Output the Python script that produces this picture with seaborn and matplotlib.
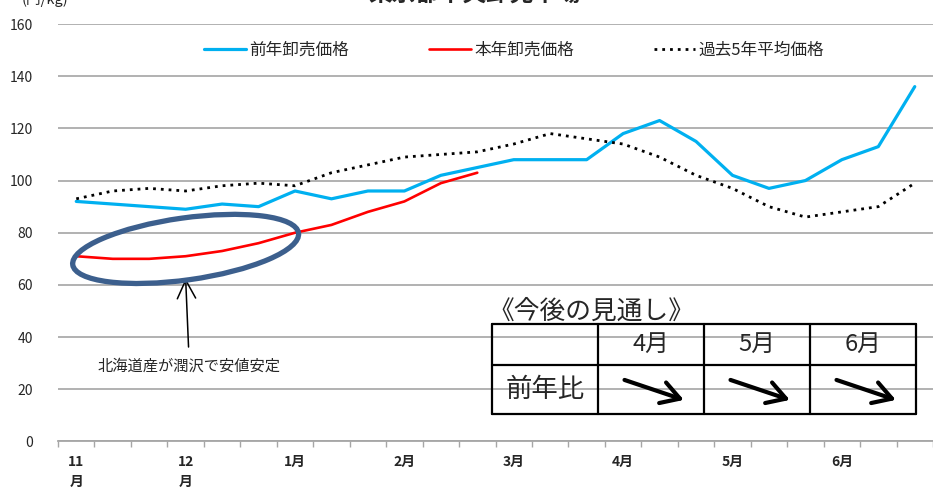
import numpy as np
import pandas as pd
import matplotlib
matplotlib.use("Agg")
import matplotlib.pyplot as plt
import seaborn as sns
from matplotlib.patches import Ellipse
from matplotlib.transforms import IdentityTransform, ScaledTranslation

# 旬ごと (上旬・中旬・下旬) の卸売価格 (円/kg)
months = ["11", "12", "1", "2", "3", "4", "5", "6"]
month_ticks = ["11\n月", "12\n月", "1月", "2月", "3月", "4月", "5月", "6月"]
periods = [f"{m}月{s}" for m in months for s in ("上旬", "中旬", "下旬")]

prev_year = [92, 91, 90, 89, 91, 90, 96, 93, 96, 96, 102, 105,
             108, 108, 108, 118, 123, 115, 102, 97, 100, 108, 113, 136]
this_year = [71, 70, 70, 71, 73, 76, 80, 83, 88, 92, 99, 103]
avg_5yr = [93, 96, 97, 96, 98, 99, 98, 103, 106, 109, 110, 111,
           114, 118, 116, 114, 109, 102, 97, 90, 86, 88, 90, 99]

outlook_months = ["4月", "5月", "6月"]

sns.set_theme(style="white")
plt.rcParams["font.family"] = ["Noto Sans CJK JP", "DejaVu Sans"]

pos = np.arange(len(periods))
df = pd.DataFrame({
    "pos": pos,
    "前年卸売価格": prev_year,
    "本年卸売価格": this_year + [np.nan] * (len(periods) - len(this_year)),
    "過去5年平均価格": avg_5yr,
})

fig = plt.figure(figsize=(9.33, 4.98), dpi=100)
ax = fig.add_axes([0.0622, 0.1135, 0.9378, 0.8383])

sns.lineplot(data=df, x="pos", y="前年卸売価格", ax=ax, color="#00B0F0",
             lw=2.3, label="前年卸売価格", zorder=3)
sns.lineplot(data=df, x="pos", y="本年卸売価格", ax=ax, color="#FF0000",
             lw=1.9, label="本年卸売価格", zorder=4)
sns.lineplot(data=df, x="pos", y="過去5年平均価格", ax=ax, color="black",
             lw=2.0, label="過去5年平均価格", zorder=3)
ax.lines[2].set_linestyle((0, (1, 1.8)))

ax.set_xlim(-0.5, len(periods) - 0.5)
ax.set_ylim(0, 160)
ax.set_yticks(np.arange(0, 161, 20))
ax.set_xticks(pos[::3])
ax.set_xticklabels(month_ticks, fontweight="bold", fontsize=10, linespacing=1.5)
ax.set_xticks(np.arange(-0.5, len(periods)), minor=True)
ax.tick_params(axis="x", which="major", length=0, pad=10)
ax.tick_params(axis="x", which="minor", length=4, width=1, color="#A6A6A6",
               bottom=True)
ax.tick_params(axis="y", length=0, labelsize=10, pad=18)
ax.set_xlabel("")
ax.set_ylabel("")
ax.grid(axis="y", color="#ABABAB", lw=1.3)
for s in ("top", "right", "left"):
    ax.spines[s].set_visible(False)
ax.spines["bottom"].set_color("#A6A6A6")
ax.spines["bottom"].set_linewidth(1.3)

leg = ax.legend(loc="center left", bbox_to_anchor=(0.150, 0.9377), ncol=3,
                frameon=False, fontsize=12, handlelength=2.5,
                handletextpad=0.2, columnspacing=4.8)

fig.text(0.509, 0.998, "東京都中央卸売市場", ha="center", va="baseline",
         fontsize=17, fontweight="bold")
fig.text(0.0236, 0.991, "(円/kg)", ha="left", va="baseline", fontsize=10.5)

# 北海道産の囲み
ell = Ellipse((0, 0), 228, 62, angle=8, fill=False, ec="#3C5F8D", lw=3.8,
              transform=IdentityTransform() + ScaledTranslation(3.0, 73.8, ax.transData),
              zorder=5)
ax.add_patch(ell)
ax.annotate("", xy=(3.0, 62.5), xytext=(3.08, 36.2),
            arrowprops=dict(arrowstyle="->, head_length=1.1, head_width=0.55",
                            color="black", lw=1.1, shrinkA=0, shrinkB=0))
ax.text(3.09, 28.9, "北海道産が潤沢で安値安定", ha="center", va="center",
        fontsize=11)

# 今後の見通し
tax = ax.inset_axes([0.496, 0.0659, 0.4846, 0.2156])
tax.set_xlim(0, 4)
tax.set_ylim(0, 1)
tax.axis("off")
row_split = 49 / 90
for yv in (0, row_split, 1):
    tax.plot([0, 4], [yv, yv], color="black", lw=1.6, clip_on=False)
for xv in range(5):
    tax.plot([xv, xv], [0, 1], color="black", lw=1.6, clip_on=False)
tax.text(-0.03, 1.133, "《今後の見通し》", ha="left", va="center", fontsize=18.5)
for i, m in enumerate(outlook_months):
    tax.text(i + 1.5, 0.772, m, ha="center", va="center", fontsize=17)
    tax.annotate("", xy=(i + 1.81, 0.156), xytext=(i + 1.25, 0.378),
                 arrowprops=dict(arrowstyle="->, head_length=1.1, head_width=0.65",
                                 color="black", lw=3, shrinkA=0, shrinkB=0))
tax.text(0.5, 0.272, "前年比", ha="center", va="center", fontsize=19)

fig.savefig("out.png", dpi=100, facecolor="white")
